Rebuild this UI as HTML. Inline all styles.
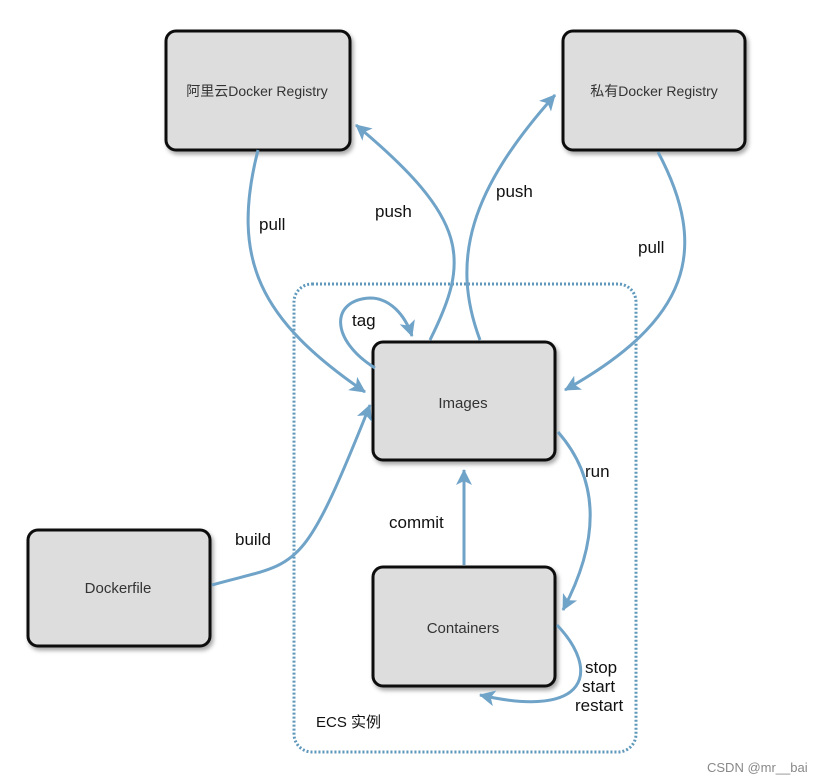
<!DOCTYPE html>
<html><head><meta charset="utf-8"><style>
html,body{margin:0;padding:0;background:#fff;width:817px;height:783px;overflow:hidden}
svg text{font-family:"Liberation Sans","Noto Sans CJK SC",sans-serif}
</style></head><body>
<svg width="817" height="783" viewBox="0 0 817 783" xmlns="http://www.w3.org/2000/svg">
<defs>
<marker id="a" viewBox="-16 -9 18 18" refX="0" refY="0" markerWidth="18" markerHeight="18" orient="auto" markerUnits="userSpaceOnUse">
<path d="M-15,-8 L1,0 L-15,8 L-11,0 Z" fill="#6fa3c8"/>
</marker>
<filter id="s" x="-10%" y="-10%" width="130%" height="130%"><feDropShadow dx="2" dy="3" stdDeviation="2" flood-opacity="0.35"/></filter>
</defs>
<rect x="294" y="284" width="342" height="468" rx="18" fill="none" stroke="#5f98bb" stroke-width="3" stroke-dasharray="2 2"/>
<g fill="#dddddd" stroke="#111" stroke-width="3" filter="url(#s)">
<rect x="166" y="31" width="184" height="119" rx="10"/>
<rect x="563" y="31" width="182" height="119" rx="10"/>
<rect x="373" y="342" width="182" height="118" rx="10"/>
<rect x="373" y="567" width="182" height="119" rx="10"/>
<rect x="28" y="530" width="182" height="116" rx="10"/>
</g>
<g fill="none" stroke="#6fa3c8" stroke-width="3" marker-end="url(#a)">
<path d="M258,150 C230,260 260,320 365,392"/>
<path d="M430,340 C470,260 470,220 356,125"/>
<path d="M480,340 C450,260 470,190 555,95"/>
<path d="M658,152 C710,250 690,320 565,390"/>
<path d="M375,368 C330,340 330,300 370,298 C390,298 405,315 412,336"/>
<path d="M212,585 C300,560 300,580 370,405"/>
<path d="M464,565 L464,470"/>
<path d="M558,432 C600,480 600,540 563,610"/>
<path d="M557,625 C600,670 590,720 480,695"/>
</g>
<g font-size="14" fill="#333" text-anchor="middle">
<text x="257" y="96">阿里云Docker Registry</text>
<text x="654" y="96">私有Docker Registry</text>
<text x="463" y="408" font-size="15">Images</text>
<text x="463" y="633" font-size="15">Containers</text>
<text x="118" y="593" font-size="15">Dockerfile</text>
</g>
<g font-size="17" fill="#111">
<text x="259" y="230">pull</text>
<text x="375" y="217">push</text>
<text x="496" y="197">push</text>
<text x="638" y="253">pull</text>
<text x="352" y="326">tag</text>
<text x="235" y="545">build</text>
<text x="389" y="528">commit</text>
<text x="585" y="477">run</text>
<text x="585" y="673">stop</text>
<text x="582" y="692">start</text>
<text x="575" y="711">restart</text>
<text x="316" y="727" font-size="15">ECS 实例</text>
</g>
<text x="707" y="772" font-size="13" fill="#888">CSDN @mr__bai</text>
</svg>
</body></html>
